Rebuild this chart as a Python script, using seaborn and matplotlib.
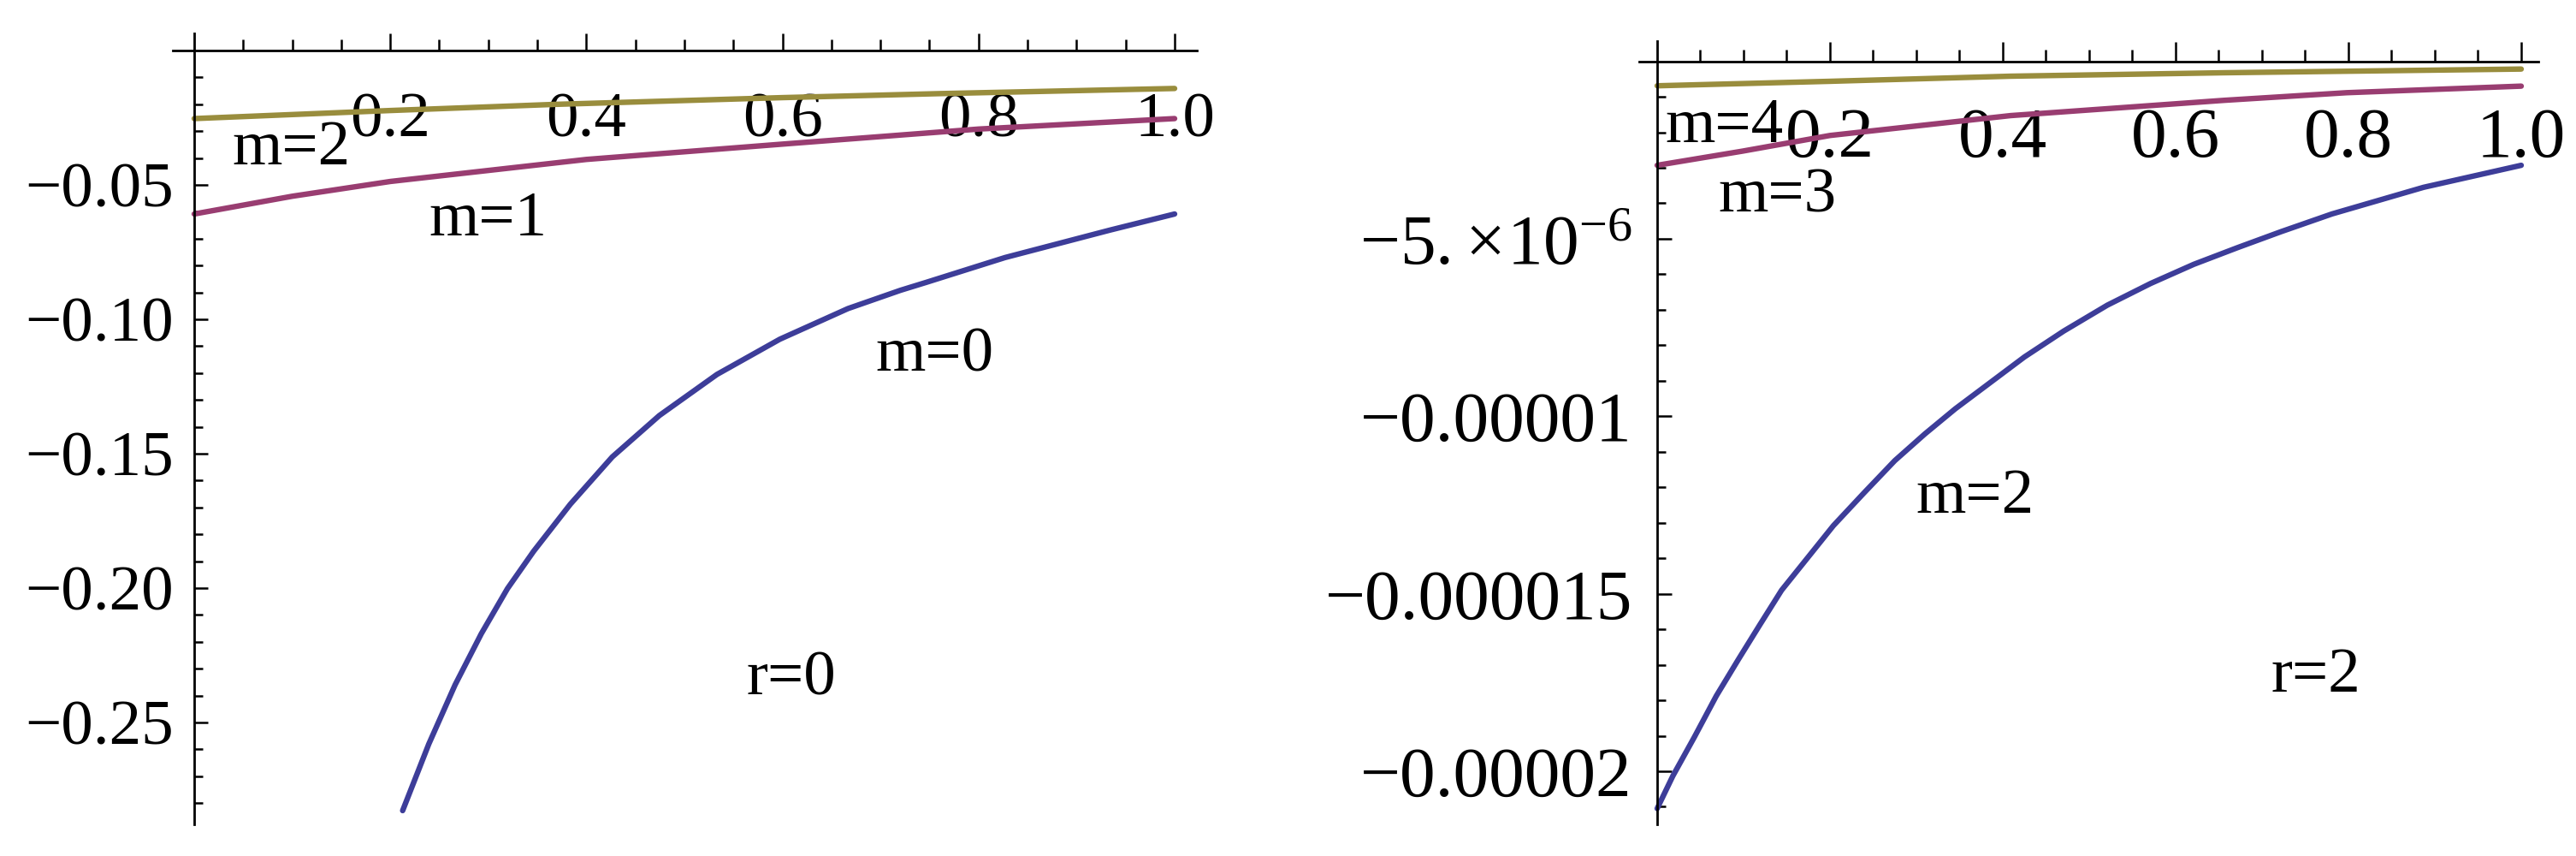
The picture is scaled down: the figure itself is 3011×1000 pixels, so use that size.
import numpy as np
import pandas as pd
import seaborn as sns
import matplotlib
matplotlib.use("Agg")
import matplotlib.pyplot as plt
from matplotlib.ticker import FixedLocator, FixedFormatter

# left panel, r=0
left_m0_x = [0.2126, 0.2393, 0.2661, 0.2928, 0.3195, 0.3462, 0.3836, 0.4264, 0.4744,
             0.5332, 0.5973, 0.6668, 0.7203, 0.747, 0.8271, 0.934, 1.0]
left_m0_y = [-0.2828, -0.2580, -0.2360, -0.2170, -0.2002, -0.1863, -0.1688, -0.1512, -0.1358,
             -0.1205, -0.1074, -0.0960, -0.0892, -0.0862, -0.0770, -0.0668, -0.0608]
left_m1_x = [0.0, 0.1, 0.2, 0.4, 0.6, 0.8, 1.0]
left_m1_y = [-0.0608, -0.0542, -0.0487, -0.0405, -0.0348, -0.0292, -0.0253]
left_m2_x = [0.0, 0.2, 0.369, 0.6, 0.762, 1.0]
left_m2_y = [-0.0253, -0.0223, -0.0200, -0.0175, -0.0160, -0.0141]

# right panel, r=2 (values in units of 1e-6)
right_m2_x = [0.0, 0.0182, 0.043, 0.0684, 0.094, 0.1187, 0.144, 0.174, 0.204, 0.2393, 0.275,
              0.3097, 0.345, 0.385, 0.425, 0.4705, 0.521, 0.571, 0.621, 0.6716, 0.722, 0.781,
              0.887, 1.0]
right_m2_y = [-21.05, -20.13, -19.04, -17.88, -16.85, -15.88, -14.90, -13.99, -13.08, -12.16, -11.25,
              -10.50, -9.79, -9.06, -8.33, -7.60, -6.87, -6.26, -5.72, -5.25, -4.80, -4.30,
              -3.55, -2.93]
right_m3_x = [0.0, 0.099, 0.2, 0.409, 0.656, 0.798, 1.0]
right_m3_y = [-2.93, -2.53, -2.09, -1.53, -1.10, -0.885, -0.70]
right_m4_x = [0.0, 0.2, 0.409, 0.656, 1.0]
right_m4_y = [-0.69, -0.564, -0.42, -0.323, -0.219]

x_major = [0.2, 0.4, 0.6, 0.8, 1.0]
x_labels = ["0.2", "0.4", "0.6", "0.8", "1.0"]
left_y_major = [-0.05, -0.10, -0.15, -0.20, -0.25]
left_y_labels = ["\u22120.05", "\u22120.10", "\u22120.15", "\u22120.20", "\u22120.25"]
right_y_major = [-5e-6, -1e-5, -1.5e-5, -2e-5]
right_y_labels = [r"$-5.\!\times\!10^{-6}$", "\u22120.00001", "\u22120.000015", "\u22120.00002"]

sns.set_style("white")
plt.rcParams["font.family"] = ["Liberation Serif", "DejaVu Serif"]
plt.rcParams["mathtext.fontset"] = "custom"
plt.rcParams["mathtext.rm"] = "Liberation Serif"
plt.rcParams["mathtext.it"] = "Liberation Serif:italic"
plt.rcParams["text.color"] = "black"
plt.rcParams["xtick.color"] = "black"
plt.rcParams["ytick.color"] = "black"

BLUE = "#3d3d99"
MAGENTA = "#993d71"
OLIVE = "#998d3d"
LW = 4.6

fig = plt.figure(figsize=(30.11, 10), dpi=100)
ax1 = fig.add_axes([0.06709, 0.037, 0.39754, 0.924])
ax2 = fig.add_axes([0.63633, 0.037, 0.34905, 0.915])


def curve(ax, xs, ys, color, scale=1.0):
    df = pd.DataFrame({"x": xs, "y": np.array(ys) * scale})
    sns.lineplot(data=df, x="x", y="y", ax=ax, color=color, linewidth=LW,
                 sort=False, estimator=None, legend=False)


def style_axes(ax, xlim, ylim, ymaj, ylab, yminor, fs, xmaj_len, xmin_len,
               ymaj_len, ymin_len, xpad, ypad):
    ax.set_xlim(*xlim)
    ax.set_ylim(*ylim)
    ax.set_xlabel("")
    ax.set_ylabel("")
    for s in ["top", "right"]:
        ax.spines[s].set_visible(False)
    ax.spines["left"].set_position(("data", 0))
    ax.spines["bottom"].set_position(("data", 0))
    for s in ["left", "bottom"]:
        ax.spines[s].set_linewidth(2.0)
        ax.spines[s].set_color("black")
    ax.xaxis.set_major_locator(FixedLocator(x_major))
    ax.xaxis.set_major_formatter(FixedFormatter(x_labels))
    ax.xaxis.set_minor_locator(FixedLocator([0.05, 0.1, 0.15, 0.25, 0.3, 0.35, 0.45, 0.5,
                                             0.55, 0.65, 0.7, 0.75, 0.85, 0.9, 0.95]))
    ax.yaxis.set_major_locator(FixedLocator(ymaj))
    ax.yaxis.set_major_formatter(FixedFormatter(ylab))
    ax.yaxis.set_minor_locator(FixedLocator(yminor))
    ax.tick_params(axis="x", which="major", direction="in", length=xmaj_len, width=1.8,
                   labelsize=fs, pad=xpad, bottom=True, top=False, colors="black")
    ax.tick_params(axis="x", which="minor", direction="in", length=xmin_len, width=1.8,
                   bottom=True, top=False, colors="black")
    ax.tick_params(axis="y", which="major", direction="in", length=ymaj_len, width=1.8,
                   labelsize=fs, pad=ypad, left=True, right=False, colors="black")
    ax.tick_params(axis="y", which="minor", direction="in", length=ymin_len, width=1.8,
                   left=True, right=False, colors="black")
    ax.set_facecolor("white")


# left panel
curve(ax1, left_m0_x, left_m0_y, BLUE)
curve(ax1, left_m1_x, left_m1_y, MAGENTA)
curve(ax1, left_m2_x, left_m2_y, OLIVE)
left_minor = [-0.01 * k for k in range(1, 29) if k % 5 != 0]
style_axes(ax1, (-0.0218, 1.0227), (-0.2879, 0.0064), left_y_major, left_y_labels,
           left_minor, 54, 14.4, 9.4, 11.5, 7.2, 35, 17)

TFS = 54
ax1.text(0.099, -0.0424, "m=2", fontsize=TFS, ha="center", va="baseline", color="black")
ax1.text(0.300, -0.0688, "m=1", fontsize=TFS, ha="center", va="baseline", color="black")
ax1.text(0.755, -0.1193, "m=0", fontsize=TFS, ha="center", va="baseline", color="black")
ax1.text(0.609, -0.2395, "r=0", fontsize=TFS, ha="center", va="baseline", color="black")

# right panel
curve(ax2, right_m2_x, right_m2_y, BLUE, 1e-6)
curve(ax2, right_m3_x, right_m3_y, MAGENTA, 1e-6)
curve(ax2, right_m4_x, right_m4_y, OLIVE, 1e-6)
right_minor = [-1e-6 * k for k in range(1, 22) if k % 5 != 0]
style_axes(ax2, (-0.0208, 1.0198), (-21.495e-6, 0.569e-6), right_y_major, right_y_labels,
           right_minor, 60, 16.5, 10, 12, 7.2, 38.5, 21)

ax2.text(0.078, -2.28e-6, "m=4", fontsize=TFS, ha="center", va="baseline", color="black")
ax2.text(0.139, -4.25e-6, "m=3", fontsize=TFS, ha="center", va="baseline", color="black")
ax2.text(0.368, -12.72e-6, "m=2", fontsize=TFS, ha="center", va="baseline", color="black")
ax2.text(0.762, -17.76e-6, "r=2", fontsize=TFS, ha="center", va="baseline", color="black")

fig.savefig("out.png", dpi=100, facecolor="white")
